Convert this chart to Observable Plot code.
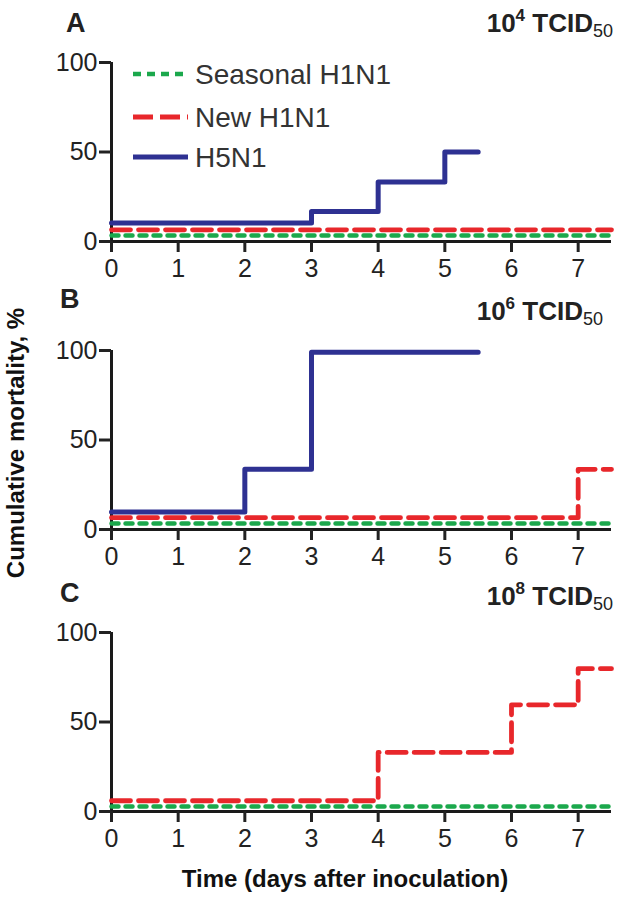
<!DOCTYPE html>
<html><head><meta charset="utf-8">
<script src="https://cdn.jsdelivr.net/npm/d3@7"></script>
<script src="https://cdn.jsdelivr.net/npm/@observablehq/plot@0.6"></script>
<style>
body{margin:0;background:#fff;}
#fig{position:relative;width:619px;height:900px;font-family:"Liberation Sans",Arial,sans-serif;}
#fig > svg{position:absolute;left:0;}
</style></head><body><div id="fig"></div>
<script>
// ---- data ----
const xTicks = [0, 1, 2, 3, 4, 5, 6, 7];
const yTicks = [0, 50, 100];
const seriesNames = ["Seasonal H1N1", "New H1N1", "H5N1"];
const seriesColors = ["#1ba84c", "#e8272b", "#2e3192"];
const panelLetters = ["A", "B", "C"];
const panelDoseExp = ["4", "6", "8"];

// Panel A (10^4 TCID50)
const seasonalA_day = [0, 7.5],            seasonalA_pct = [3.4, 3.4];
const newA_day      = [0, 7.5],            newA_pct      = [6.5, 6.5];
const h5A_day       = [0, 3, 4, 5, 5.5],   h5A_pct       = [10.3, 16.8, 33.2, 50, 50];
// Panel B (10^6 TCID50)
const seasonalB_day = [0, 7.5],            seasonalB_pct = [3.4, 3.4];
const newB_day      = [0, 7, 7.5],         newB_pct      = [6.6, 33.6, 33.6];
const h5B_day       = [0, 2, 3, 5.5],      h5B_pct       = [9.8, 33.6, 99, 99];
// Panel C (10^8 TCID50)
const seasonalC_day = [0, 7.5],            seasonalC_pct = [2.8, 2.8];
const newC_day      = [0, 4, 6, 7, 7.5],   newC_pct      = [6, 33, 59.6, 79.8, 79.8];

const rows = (days, pcts, s) => days.map((d, i) => ({day: d, pct: pcts[i], series: s}));
const panelsData = [
  [rows(seasonalA_day, seasonalA_pct, 0), rows(newA_day, newA_pct, 1), rows(h5A_day, h5A_pct, 2)],
  [rows(seasonalB_day, seasonalB_pct, 0), rows(newB_day, newB_pct, 1), rows(h5B_day, h5B_pct, 2)],
  [rows(seasonalC_day, seasonalC_pct, 0), rows(newC_day, newC_pct, 1)]
];

// ---- styles ----
const dashes = ["7,7", "19,8", null];
const lineW = [4.5, 4.8, 5];
const axisColor = "#1a1a1a";
const panelTops = [22, 310, 592];
const W = 619, H = 264, mT = 40, mB = 45, mL = 111, mR = 8;
const tickFont = 25;

const fig = document.getElementById("fig");

panelsData.forEach((series, p) => {
  const marks = [
    Plot.ruleY([0], {stroke: axisColor, strokeWidth: 3}),
    Plot.ruleX([0], {y1: 0, y2: 100, stroke: axisColor, strokeWidth: 3}),
    Plot.axisX({ticks: xTicks, tickSize: 11, tickPadding: 7, fontSize: tickFont, strokeWidth: 3,
                color: "#222", tickFormat: d => String(d), label: null}),
    Plot.axisY({ticks: yTicks, tickSize: 12, tickPadding: 2, fontSize: tickFont, strokeWidth: 3,
                color: "#222", tickFormat: d => String(d), label: null})
  ];
  series.forEach(data => {
    const s = data[0].series;
    const o = {x: "day", y: "pct", curve: "step-after", stroke: seriesColors[s], strokeWidth: lineW[s]};
    if (dashes[s]) o.strokeDasharray = dashes[s];
    marks.push(Plot.lineY(data, o));
  });
  const svg = Plot.plot({
    width: W, height: H, marginTop: mT, marginBottom: mB, marginLeft: mL, marginRight: mR,
    style: {fontFamily: "Liberation Sans, Arial, sans-serif", background: "transparent", overflow: "visible"},
    x: {domain: [0, 7.5], axis: null},
    y: {domain: [0, 100], axis: null},
    marks
  });
  d3.select(svg).selectAll("text").style("font-size", tickFont + "px").style("fill", "#222");
  svg.style.position = "absolute";
  svg.style.top = panelTops[p] + "px";
  fig.appendChild(svg);
});

// ---- overlay text: panel letters, titles, axis titles, legend ----
const ov = d3.select(fig).append("svg")
  .attr("width", 619).attr("height", 900)
  .style("position", "absolute").style("top", "0px")
  .style("font-family", "Liberation Sans, Arial, sans-serif");

const letterPos = [[66, 32], [60, 308], [60, 602]];
panelLetters.forEach((L, i) => {
  ov.append("text").attr("x", letterPos[i][0]).attr("y", letterPos[i][1])
    .attr("font-size", 27).attr("font-weight", "bold").attr("fill", "#222").text(L);
});

const titlePos = [[613, 32], [603, 320], [613, 605]];
panelDoseExp.forEach((e, i) => {
  const t = ov.append("text").attr("x", titlePos[i][0]).attr("y", titlePos[i][1])
    .attr("text-anchor", "end").attr("font-size", 26).attr("font-weight", "bold").attr("fill", "#222");
  t.append("tspan").text("10");
  t.append("tspan").attr("font-size", 17).attr("dy", -11).text(e);
  t.append("tspan").attr("dy", 11).text("\u00a0TCID");
  t.append("tspan").attr("font-size", 18).attr("font-weight", "normal").attr("dy", 5).text("50");
});

ov.append("text").attr("transform", "translate(24,443) rotate(-90)")
  .attr("text-anchor", "middle").attr("font-size", 24).attr("font-weight", "bold").attr("fill", "#111")
  .text("Cumulative mortality, %");

ov.append("text").attr("x", 345).attr("y", 887)
  .attr("text-anchor", "middle").attr("font-size", 24).attr("font-weight", "bold").attr("fill", "#111")
  .text("Time (days after inoculation)");

const legY = [74, 117, 157];
seriesNames.forEach((n, i) => {
  const ln = ov.append("line").attr("x1", 133).attr("x2", 188).attr("y1", legY[i]).attr("y2", legY[i])
    .attr("stroke", seriesColors[i]).attr("stroke-width", lineW[i]);
  if (dashes[i]) ln.attr("stroke-dasharray", i === 1 ? "20,7" : "8,6");
  ov.append("text").attr("x", 195).attr("y", legY[i] + 10)
    .attr("font-size", 28).attr("fill", "#333").text(n);
});
</script></body></html>
